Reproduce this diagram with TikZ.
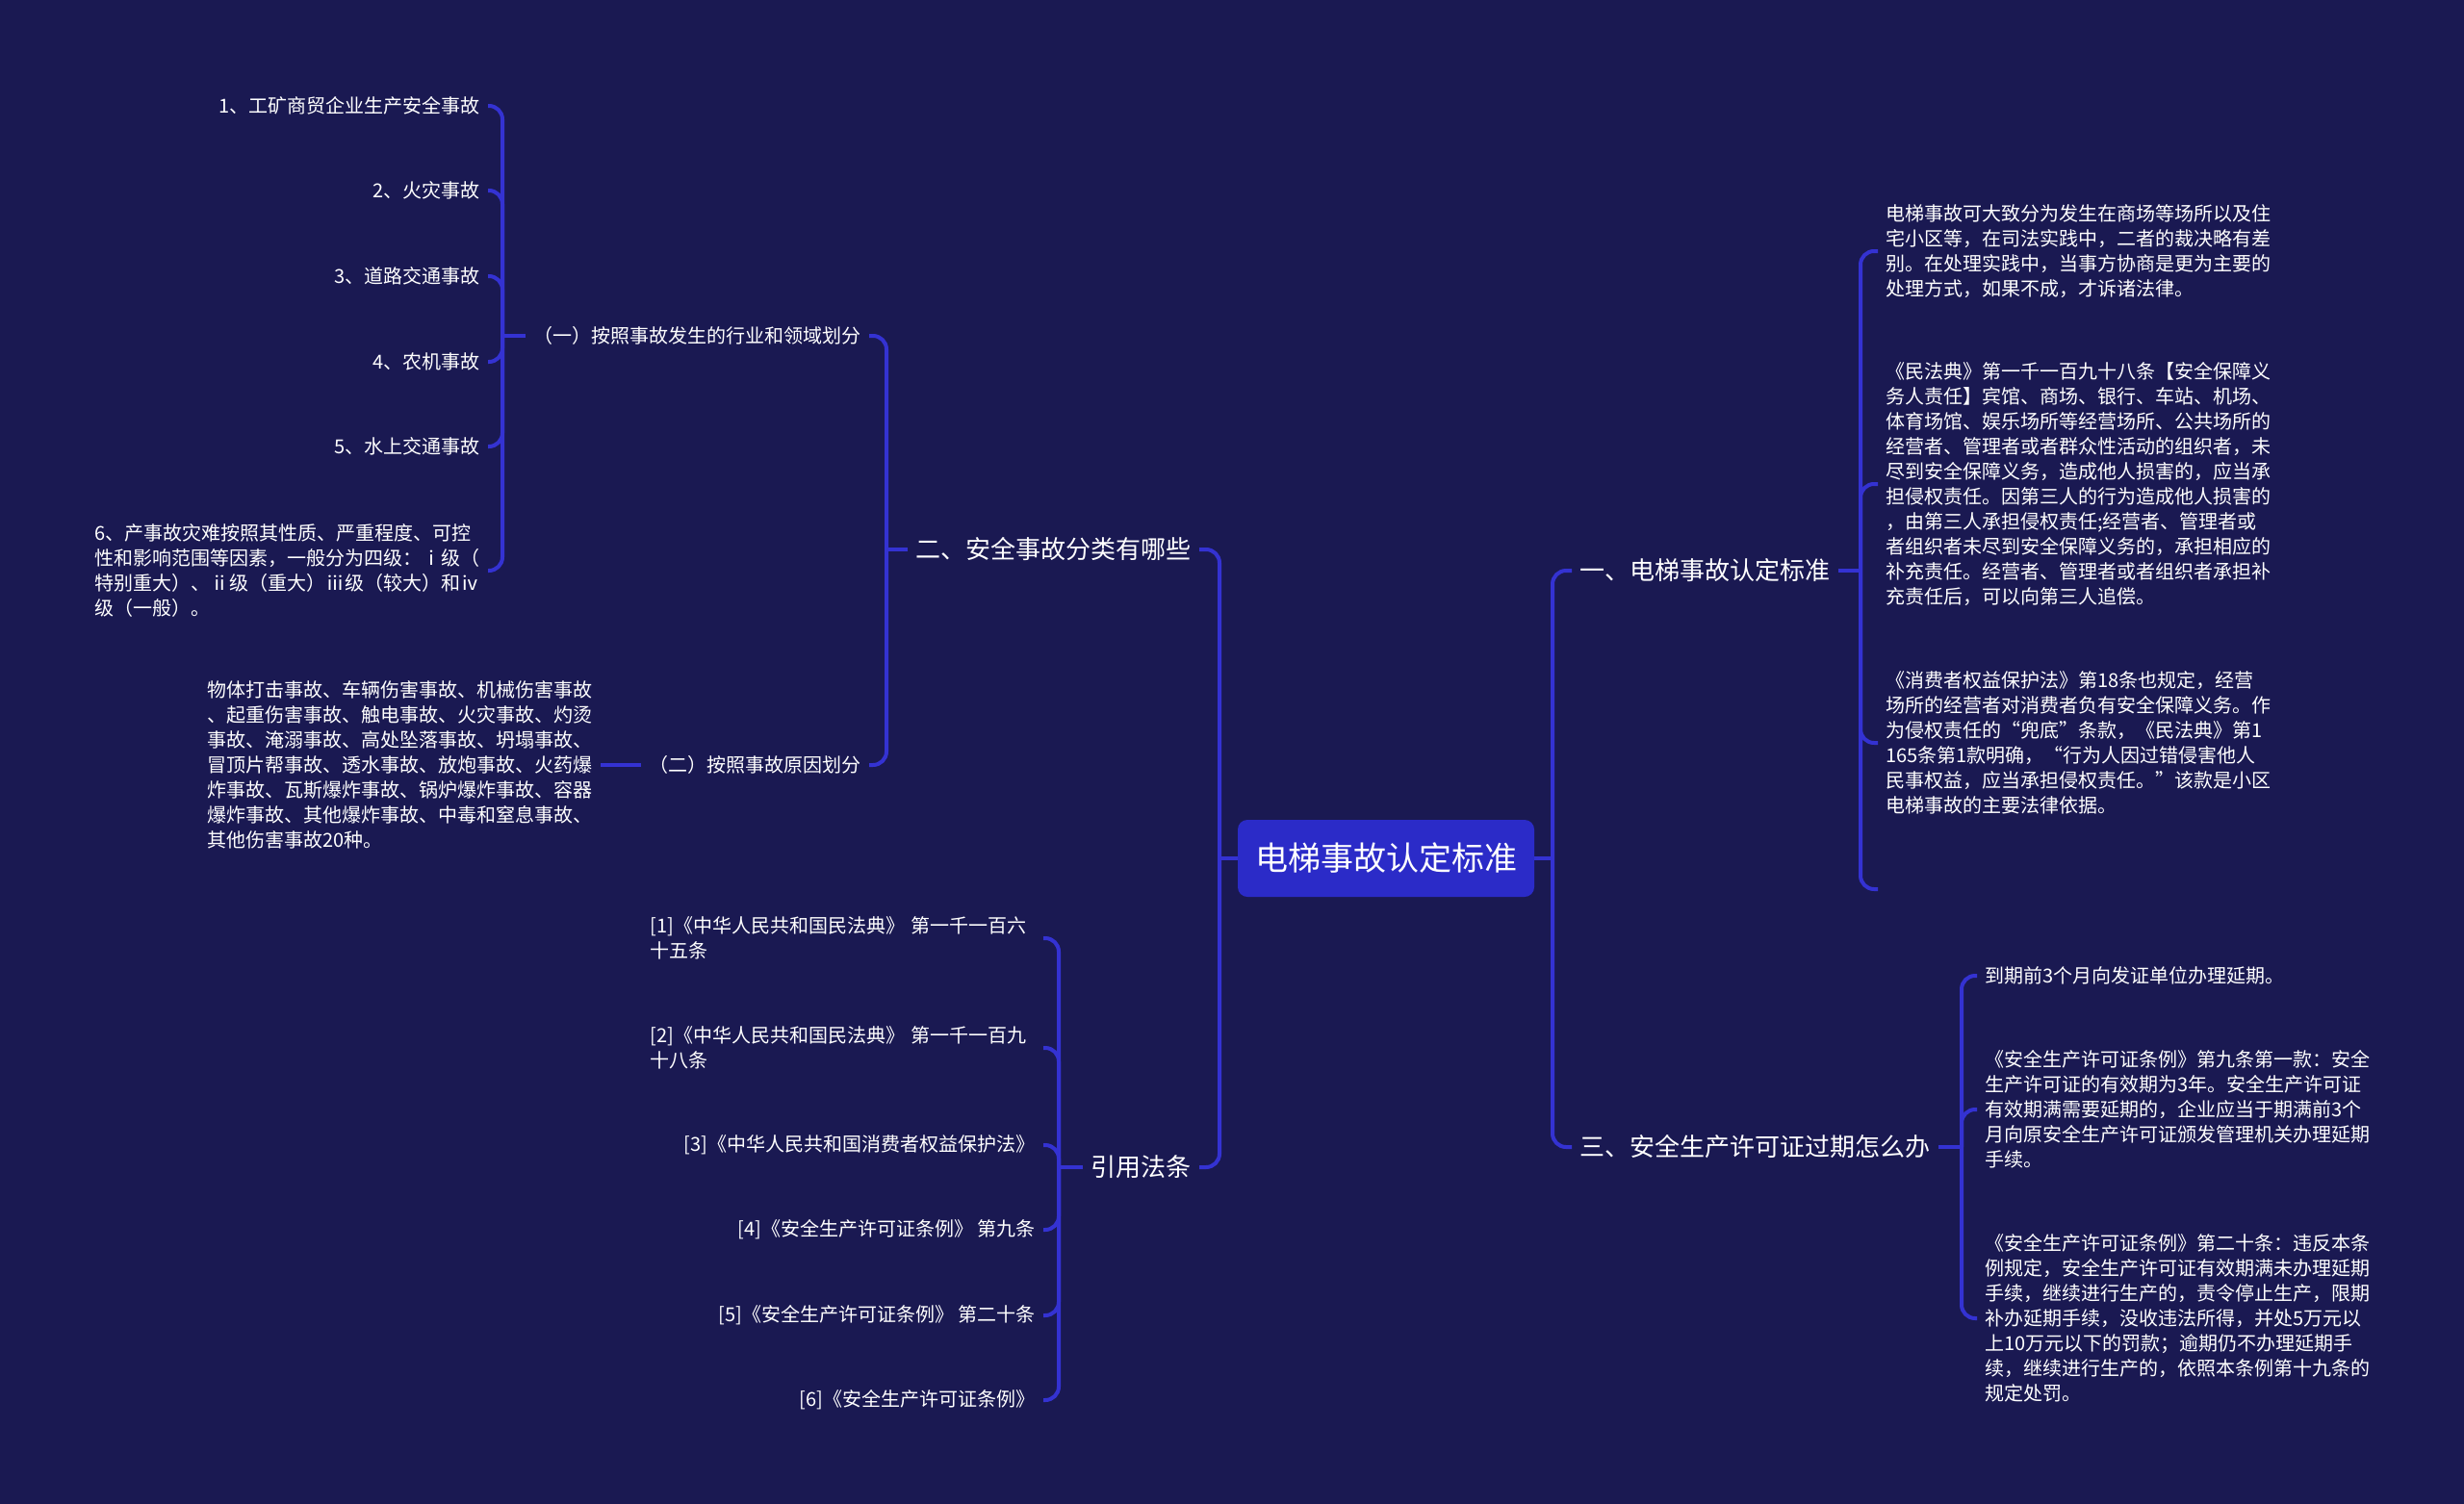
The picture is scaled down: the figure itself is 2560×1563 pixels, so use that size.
\documentclass[tikz,border=0pt]{standalone}
\usepackage{fontspec}
\setmainfont{Noto Sans CJK SC}
\usepackage{tikz}
\definecolor{bgnavy}{RGB}{26,25,82}
\definecolor{rootblue}{RGB}{43,43,200}
\definecolor{linkblue}{RGB}{52,50,210}

\begin{document}
\begin{tikzpicture}[x=0.5pt, y=-0.5pt,
  link/.style={draw=linkblue, line width=2pt, rounded corners=7pt},
  topic/.style={fill=rootblue, rounded corners=5pt, text=white, inner xsep=9pt, minimum height=40pt, font=\fontsize{17pt}{20pt}\selectfont},
  branch/.style={text=white, inner xsep=4pt, font=\fontsize{13pt}{16pt}\selectfont},
  leaf/.style={text=white, inner xsep=4pt, align=left, font=\fontsize{10pt}{13pt}\selectfont}]
  \fill [bgnavy] (0,0) rectangle (2560,1563);
  \useasboundingbox (0,0) rectangle (2560,1563);

  \node [topic] (root) at (1440,892) {电梯事故认定标准};

  \node [branch, anchor=east] (cls) at (1246,571) {二、安全事故分类有哪些};
  \node [branch, anchor=east] (law) at (1246,1213) {引用法条};
  \node [branch, anchor=west] (std) at (1633,593) {一、电梯事故认定标准};
  \node [branch, anchor=west] (exp) at (1633,1192) {三、安全生产许可证过期怎么办};

  \node [leaf, anchor=east] (byfield) at (903,349) {（一）按照事故发生的行业和领域划分};
  \node [leaf, anchor=east] (bycause) at (903,795) {（二）按照事故原因划分};

  \node [leaf, anchor=east] (f1) at (507,110) {1、工矿商贸企业生产安全事故};
  \node [leaf, anchor=east] (f2) at (507,198) {2、火灾事故};
  \node [leaf, anchor=east] (f3) at (507,287) {3、道路交通事故};
  \node [leaf, anchor=east] (f4) at (507,376) {4、农机事故};
  \node [leaf, anchor=east] (f5) at (507,464) {5、水上交通事故};
  \node [leaf, anchor=east] (f6) at (507,593) {6、产事故灾难按照其性质、严重程度、可控\\性和影响范围等因素，一般分为四级：ⅰ级（\\特别重大）、ⅱ级（重大）ⅲ级（较大）和ⅳ\\级（一般）。};

  \node [leaf, anchor=east] (kinds) at (624,795) {物体打击事故、车辆伤害事故、机械伤害事故\\、起重伤害事故、触电事故、火灾事故、灼烫\\事故、淹溺事故、高处坠落事故、坍塌事故、\\冒顶片帮事故、透水事故、放炮事故、火药爆\\炸事故、瓦斯爆炸事故、锅炉爆炸事故、容器\\爆炸事故、其他爆炸事故、中毒和窒息事故、\\其他伤害事故20种。};

  \node [leaf, anchor=east, text width=200pt] (r1) at (1084,975) {[1]《中华人民共和国民法典》 第一千一百六\\十五条};
  \node [leaf, anchor=east, text width=200pt] (r2) at (1084,1089) {[2]《中华人民共和国民法典》 第一千一百九\\十八条};
  \node [leaf, anchor=east] (r3) at (1084,1190) {[3]《中华人民共和国消费者权益保护法》};
  \node [leaf, anchor=east] (r4) at (1084,1278) {[4]《安全生产许可证条例》 第九条};
  \node [leaf, anchor=east] (r5) at (1084,1367) {[5]《安全生产许可证条例》 第二十条};
  \node [leaf, anchor=east] (r6) at (1084,1455) {[6]《安全生产许可证条例》};

  \node [leaf, anchor=west] (c1) at (1951,261) {电梯事故可大致分为发生在商场等场所以及住\\宅小区等，在司法实践中，二者的裁决略有差\\别。在处理实践中，当事方协商是更为主要的\\处理方式，如果不成，才诉诸法律。};
  \node [leaf, anchor=west] (c2) at (1951,503) {《民法典》第一千一百九十八条【安全保障义\\务人责任】宾馆、商场、银行、车站、机场、\\体育场馆、娱乐场所等经营场所、公共场所的\\经营者、管理者或者群众性活动的组织者，未\\尽到安全保障义务，造成他人损害的，应当承\\担侵权责任。因第三人的行为造成他人损害的\\，由第三人承担侵权责任;经营者、管理者或\\者组织者未尽到安全保障义务的，承担相应的\\补充责任。经营者、管理者或者组织者承担补\\充责任后，可以向第三人追偿。};
  \node [leaf, anchor=west] (c3) at (1951,772) {《消费者权益保护法》第18条也规定，经营\\场所的经营者对消费者负有安全保障义务。作\\为侵权责任的“兜底”条款，《民法典》第1\\165条第1款明确，“行为人因过错侵害他人\\民事权益，应当承担侵权责任。”该款是小区\\电梯事故的主要法律依据。};
  \coordinate (c4) at (1951,924);

  \node [leaf, anchor=west] (d1) at (2054,1014) {到期前3个月向发证单位办理延期。};
  \node [leaf, anchor=west] (d2) at (2054,1153) {《安全生产许可证条例》第九条第一款：安全\\生产许可证的有效期为3年。安全生产许可证\\有效期满需要延期的，企业应当于期满前3个\\月向原安全生产许可证颁发管理机关办理延期\\手续。};
  \node [leaf, anchor=west] (d3) at (2054,1370) {《安全生产许可证条例》第二十条：违反本条\\例规定，安全生产许可证有效期满未办理延期\\手续，继续进行生产的，责令停止生产，限期\\补办延期手续，没收违法所得，并处5万元以\\上10万元以下的罚款；逾期仍不办理延期手\\续，继续进行生产的，依照本条例第十九条的\\规定处罚。};

  \coordinate (tl) at (1267,892);
  \draw [link] (root.west) -- (tl);
  \foreach \c in {cls,law} \draw [link] (tl) |- (\c.east);
  \coordinate (tc) at (921,571);
  \draw [link] (cls.west) -- (tc);
  \foreach \c in {byfield,bycause} \draw [link] (tc) |- (\c.east);
  \coordinate (tf) at (522,349);
  \draw [link] (byfield.west) -- (tf);
  \foreach \i in {1,...,6} \draw [link] (tf) |- (f\i.east);
  \draw [link] (bycause.west) -- (kinds.east);
  \coordinate (tw) at (1100,1213);
  \draw [link] (law.west) -- (tw);
  \foreach \i in {1,...,6} \draw [link] (tw) |- (r\i.east);

  \coordinate (tr) at (1613,892);
  \draw [link] (root.east) -- (tr);
  \foreach \c in {std,exp} \draw [link] (tr) |- (\c.west);
  \coordinate (ts) at (1933,593);
  \draw [link] (std.east) -- (ts);
  \foreach \i in {1,2,3} \draw [link] (ts) |- (c\i.west);
  \draw [link] (ts) |- (c4);
  \coordinate (te) at (2038,1192);
  \draw [link] (exp.east) -- (te);
  \foreach \i in {1,2,3} \draw [link] (te) |- (d\i.west);
\end{tikzpicture}
\end{document}
